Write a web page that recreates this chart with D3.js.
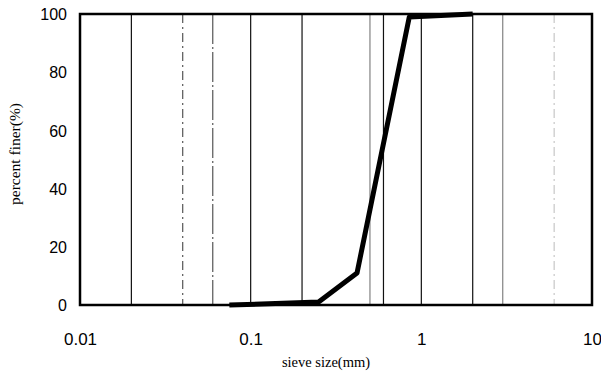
<!DOCTYPE html>
<html>
<head>
<meta charset="utf-8">
<script src="https://cdn.jsdelivr.net/npm/d3@7"></script>
<style>
  html, body { margin: 0; padding: 0; background: #fff; }
  svg { display: block; }
</style>
</head>
<body>
<svg id="chart" width="601" height="374"></svg>
<script>
// Grain size distribution (sieve analysis)
const sieveSizes = [0.075, 0.25, 0.42, 0.85, 2];
const percentFiner = [0, 1, 11, 99, 100];

const xTicks = [0.01, 0.1, 1, 10];
const yTicks = [0, 20, 40, 60, 80, 100];

// vertical reference lines
const solidGrid = [0.02, 0.1, 0.2, 0.6, 1, 2];
const greyGrid = [0.5, 3];
const dashedGrid = [0.04, 0.06, 6];

const svg = d3.select("#chart");
const plotL = 80, plotR = 592, plotT = 14, plotB = 305;

const x = d3.scaleLog().domain([0.01, 10]).range([plotL, plotR]);
const y = d3.scaleLinear().domain([0, 100]).range([plotB, plotT]);

const grid = svg.append("g");
grid.selectAll("line.solid").data(solidGrid).join("line")
  .attr("class", "solid")
  .attr("x1", d => x(d)).attr("x2", d => x(d))
  .attr("y1", plotT).attr("y2", plotB)
  .attr("stroke", "#111").attr("stroke-width", 1.2);
grid.selectAll("line.grey").data(greyGrid).join("line")
  .attr("class", "grey")
  .attr("x1", d => x(d)).attr("x2", d => x(d))
  .attr("y1", plotT).attr("y2", plotB)
  .attr("stroke", "#777").attr("stroke-width", 1.1);
grid.selectAll("line.dash").data(dashedGrid).join("line")
  .attr("class", "dash")
  .attr("x1", d => x(d)).attr("x2", d => x(d))
  .attr("y1", plotT).attr("y2", plotB)
  .attr("stroke", (d, i) => i === 2 ? "#bbb" : "#333")
  .attr("stroke-width", 1)
  .attr("stroke-dasharray", (d, i) => i === 1 ? "30,3,2,3" : "9,4,2,4");

// frame
svg.append("rect")
  .attr("x", plotL).attr("y", plotT)
  .attr("width", plotR - plotL).attr("height", plotB - plotT)
  .attr("fill", "none").attr("stroke", "#000").attr("stroke-width", 2.5);

// gradation curve
const pts = sieveSizes.map((s, i) => [s, percentFiner[i]]);
svg.append("path")
  .datum(pts)
  .attr("fill", "none")
  .attr("stroke", "#000")
  .attr("stroke-width", 5)
  .attr("stroke-linejoin", "round")
  .attr("d", d3.line().x(d => x(d[0])).y(d => y(d[1])));

// axes
const xAxis = d3.axisBottom(x).tickValues(xTicks).tickSize(0).tickPadding(0)
  .tickFormat(d => String(d));
const gx = svg.append("g").attr("transform", `translate(0,${plotB})`).call(xAxis);
gx.select(".domain").remove();
gx.selectAll("text")
  .attr("y", 40).attr("dy", 0)
  .attr("font-family", "Liberation Sans, Arial, sans-serif")
  .attr("font-size", 17).attr("fill", "#000");

const yAxis = d3.axisLeft(y).tickValues(yTicks).tickSize(0).tickPadding(0);
const gy = svg.append("g").attr("transform", `translate(${plotL},0)`).call(yAxis);
gy.select(".domain").remove();
gy.selectAll("text")
  .attr("x", -13).attr("dy", "0.36em")
  .attr("font-family", "Liberation Sans, Arial, sans-serif")
  .attr("font-size", 16).attr("fill", "#000");

// titles
svg.append("text")
  .attr("x", 326).attr("y", 367)
  .attr("text-anchor", "middle")
  .attr("font-family", "Liberation Serif, Times New Roman, serif")
  .attr("font-size", 14.5)
  .text("sieve size(mm)");

svg.append("text")
  .attr("transform", "translate(20,154) rotate(-90)")
  .attr("text-anchor", "middle")
  .attr("font-family", "Liberation Serif, Times New Roman, serif")
  .attr("font-size", 15.5)
  .text("percent finer(%)");
</script>
</body>
</html>
